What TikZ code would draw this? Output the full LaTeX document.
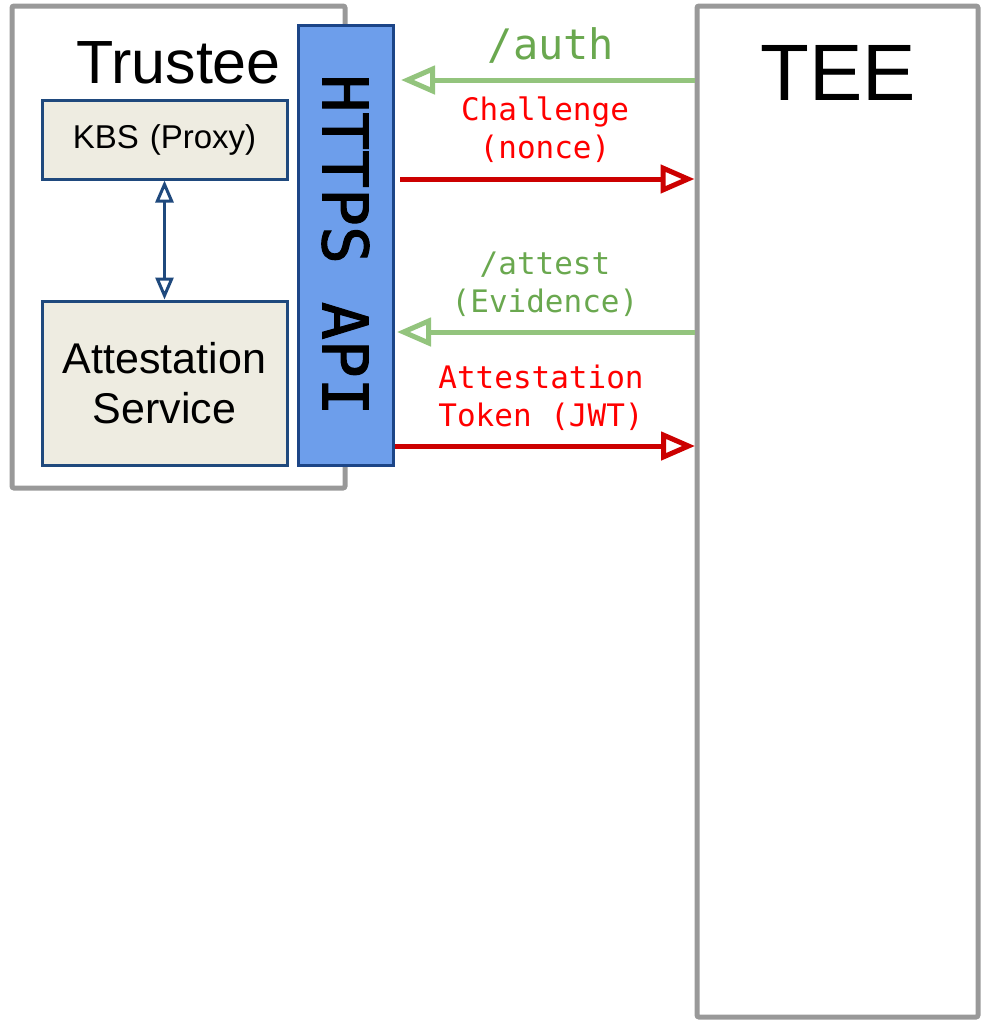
\documentclass[tikz,border=0pt]{standalone}
\usepackage{fontspec}
\setmainfont{Liberation Sans}
\setmonofont{DejaVu Sans Mono}
\newfontfamily\apifont[FakeBold=1.6]{DejaVu Sans Mono}
\usetikzlibrary{arrows.meta}
\definecolor{frame}{HTML}{999999}
\definecolor{boxfill}{HTML}{EEECE1}
\definecolor{boxline}{HTML}{1F497D}
\definecolor{apifill}{HTML}{6D9EEB}
\definecolor{apiline}{HTML}{1C4587}
\definecolor{greenline}{HTML}{93C47D}
\definecolor{greentext}{HTML}{6AA84F}
\definecolor{redline}{HTML}{CC0000}
\definecolor{redtext}{HTML}{FF0000}
\tikzset{
  container/.style={draw=frame, line width=5pt, rounded corners=2pt, fill=white, inner sep=0pt},
  component/.style={draw=boxline, line width=3pt, fill=boxfill, inner sep=0pt, align=center, text width=245pt},
  apibar/.style={draw=apiline, line width=3pt, fill=apifill, inner sep=0pt},
  msg/.style={line width=5pt, -{Triangle[open, length=34pt, width=28pt, line width=5pt]}},
  req/.style={msg, draw=greenline},
  resp/.style={msg, draw=redline},
  msglabel/.style={font=\ttfamily\fontsize{31}{38}\selectfont, align=center, inner sep=0pt},
  linktip/.tip={Triangle[open, length=22pt, width=18pt, line width=3pt]},
  link/.style={draw=boxline, line width=3pt, linktip-linktip}
}
\begin{document}
\begin{tikzpicture}[x=1pt, y=-1pt]
\useasboundingbox (0,0) rectangle (982,1020);

% party frames
\node[container, minimum width=333pt, minimum height=482pt] (trustee) at (178.5,247) {};
\node[container, minimum width=281pt, minimum height=1011pt] (tee) at (837.5,511.5) {};
\node[anchor=base east, inner sep=0pt, font=\fontsize{61}{70}\selectfont] (trusteelabel) at (281,83) {Trustee};
\node[anchor=base, inner sep=0pt, font=\fontsize{80}{90}\selectfont] (teelabel) at (838,100) {TEE};

% trustee components
\node[component, minimum height=79pt, font=\fontsize{33}{38}\selectfont] (kbs) at (164.5,139.5) {KBS (Proxy)};
\node[component, minimum height=164pt, font=\fontsize{43}{50}\selectfont] (as) at (164.5,383) {Attestation\\Service\\[-10pt]};
\node[apibar, minimum width=95pt, minimum height=440pt] (api) at (345.5,245) {};
\node[rotate=-90, inner sep=0pt, font=\apifont\fontsize{63}{70}\selectfont] (apilabel) at (api.center) {HTTPS API};

\draw[link] (kbs.south) -- (as.north);

% protocol messages
\coordinate (authS) at (tee.west |- 0,80);
\coordinate (authE) at (401,80);
\coordinate (chalS) at (400,179);
\coordinate (chalE) at (tee.west |- 0,179);
\coordinate (attS) at (tee.west |- 0,332);
\coordinate (attE) at (397,332);
\coordinate (tokS) at (395,446);
\coordinate (tokE) at (695,446);

\draw[req] (authS) -- (authE);
\draw[resp] (chalS) -- (chalE);
\draw[req] (attS) -- (attE);
\draw[resp] (tokS) -- (tokE);

\node[msglabel, text=greentext, font=\ttfamily\fontsize{42}{48}\selectfont] (authlabel) at (551,45) {/auth};
\node[msglabel, text=redtext] (challabel) at (545,130) {Challenge\\(nonce)};
\node[msglabel, text=greentext] (attlabel) at (545,284) {/attest\\(Evidence)};
\node[msglabel, text=redtext] (toklabel) at (541,398) {Attestation\\Token (JWT)};
\end{tikzpicture}
\end{document}
